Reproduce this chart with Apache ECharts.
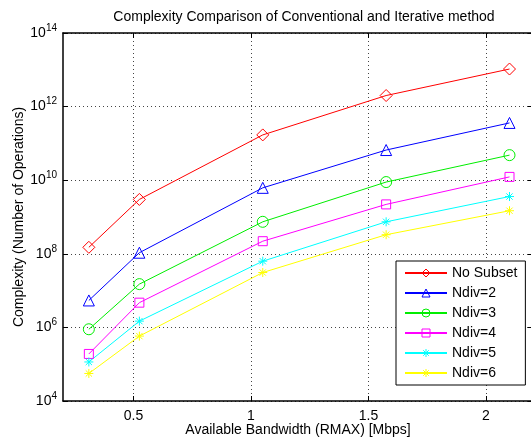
<!DOCTYPE html>
<html><head><meta charset="utf-8">
<script src="https://cdn.jsdelivr.net/npm/echarts@6/dist/echarts.min.js"></script>
<style>html,body{margin:0;padding:0;background:#fff}#c{width:531px;height:438px}</style>
</head><body><div id="c"></div>
<script>
const bandwidth = [0.31, 0.525, 1.05, 1.575, 2.1];
const noSubset = [1.5e8, 3.0e9, 1.7e11, 2.0e12, 1.05e13];
const ndiv2 = [5.4e6, 1.07e8, 6.2e9, 6.6e10, 3.6e11];
const ndiv3 = [8.9e5, 1.5e7, 7.4e8, 8.9e9, 4.8e10];
const ndiv4 = [1.9e5, 4.7e6, 2.2e8, 2.2e9, 1.23e10];
const ndiv5 = [1.15e5, 1.48e6, 6.3e7, 7.4e8, 3.6e9];
const ndiv6 = [5.6e4, 5.8e5, 3.1e7, 3.3e8, 1.48e9];
const seriesNames = ['No Subset', 'Ndiv=2', 'Ndiv=3', 'Ndiv=4', 'Ndiv=5', 'Ndiv=6'];
const xTicks = [0.5, 1, 1.5, 2];
const yTicks = [1e4, 1e6, 1e8, 1e10, 1e12, 1e14];

const star = 'path://M5 0 L5 10 M0 5 L10 5 M1.5 1.5 L8.5 8.5 M8.5 1.5 L1.5 8.5';
const seriesData = [noSubset, ndiv2, ndiv3, ndiv4, ndiv5, ndiv6];
const colors = ['#ff0000', '#0000ff', '#00ee00', '#ff00ff', '#00ffff', '#ffff00'];
const symbols = ['diamond', 'triangle', 'circle', 'rect', star, star];
const sizes = [12, 11, 11, 9, 9, 9];
const clear = 'rgba(255,255,255,0)';

const chart = echarts.init(document.getElementById('c'));
const font = 'Liberation Sans, Arial, sans-serif';
const gridLine = {show: true, lineStyle: {color: '#444', type: [1, 3], width: 1}};
const tick = {inside: true, length: 5, lineStyle: {color: '#000'}};
const line = {show: true, onZero: false, lineStyle: {color: '#000', width: 1.5}};
chart.setOption({
  animation: false,
  backgroundColor: '#fff',
  title: {
    text: 'Complexity Comparison of Conventional and Iterative method',
    left: 299, top: 5, textAlign: 'center',
    textStyle: {fontSize: 14, fontWeight: 'normal', color: '#000', fontFamily: font}
  },
  grid: {left: 63, top: 33, right: -2, bottom: 37, containLabel: false, outerBoundsMode: 'none'},
  legend: {
    orient: 'vertical', left: 396, top: 261,
    width: 130, padding: [5, 8, 5, 8],
    backgroundColor: '#fff', borderColor: '#000', borderWidth: 1,
    itemWidth: 42, itemHeight: 10, itemGap: 6,
    textStyle: {fontSize: 14, color: '#000', fontFamily: font},
    data: seriesNames.map((n, i) => ({
      name: n,
      itemStyle: {color: clear, borderColor: colors[i], borderWidth: 1}
    }))
  },
  xAxis: [{
    type: 'value', min: 0.2, max: 2.2,
    name: 'Available Bandwidth (RMAX) [Mbps]', nameLocation: 'middle', nameGap: 22,
    nameMoveOverlap: false,
    nameTextStyle: {fontSize: 14, color: '#000', fontFamily: font},
    axisLine: line,
    axisTick: Object.assign({customValues: xTicks}, tick),
    axisLabel: {customValues: xTicks, fontSize: 14, color: '#000', fontFamily: font, margin: 8},
    splitLine: gridLine
  }, {
    type: 'value', min: 0.2, max: 2.2, position: 'top',
    axisLine: line,
    axisTick: Object.assign({customValues: xTicks}, tick),
    axisLabel: {show: false, customValues: xTicks},
    splitLine: {show: false}
  }],
  yAxis: [{
    type: 'log', logBase: 10, min: 1e4, max: 1e14,
    name: 'Complexity (Number of Operations)', nameLocation: 'middle', nameGap: 37,
    nameMoveOverlap: false,
    nameTextStyle: {fontSize: 14, color: '#000', fontFamily: font},
    axisLine: line,
    axisTick: Object.assign({customValues: yTicks}, tick),
    axisLabel: {
      customValues: yTicks,
      margin: 6, color: '#000', fontFamily: font,
      formatter: v => '{b|10}{e|' + Math.round(Math.log10(v)) + '}',
      rich: {
        b: {fontSize: 14, color: '#000', fontFamily: font},
        e: {fontSize: 10, color: '#000', fontFamily: font, padding: [0, 0, 10, 0]}
      }
    },
    splitLine: gridLine
  }, {
    type: 'log', logBase: 10, min: 1e4, max: 1e14, position: 'right',
    axisLine: line,
    axisTick: Object.assign({customValues: yTicks}, tick),
    axisLabel: {show: false, customValues: yTicks},
    splitLine: {show: false}
  }],
  series: seriesNames.map((n, i) => ({
    name: n, type: 'line',
    data: bandwidth.map((x, j) => [x, seriesData[i][j]]),
    symbol: symbols[i], symbolSize: sizes[i], showAllSymbol: true,
    lineStyle: {color: colors[i], width: 1},
    itemStyle: {color: clear, borderColor: colors[i], borderWidth: 1},
    emphasis: {disabled: true}
  }))
});
</script></body></html>
